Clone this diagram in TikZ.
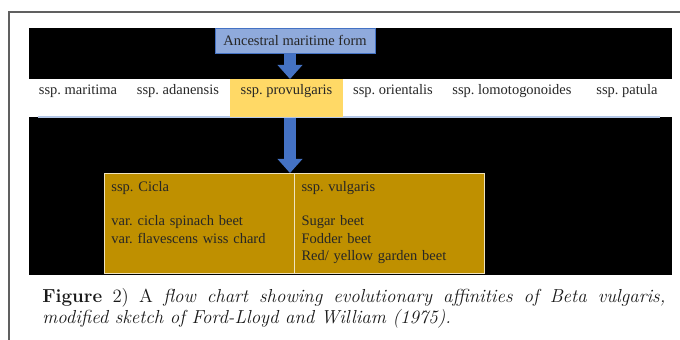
\documentclass[tikz,border=0pt]{standalone}
\usepackage{fontspec}
\usepackage{tikz}
\newfontfamily\slidefont{Liberation Serif}
\usetikzlibrary{arrows.meta, positioning}
\frenchspacing

\definecolor{ancblue}{HTML}{8FAADC}
\definecolor{arrowblue}{HTML}{4472C4}
\definecolor{provyellow}{HTML}{FFD966}
\definecolor{beetgold}{HTML}{BF9000}
\definecolor{bandline}{HTML}{B4C7E7}

\begin{document}
\begin{tikzpicture}[x=0.025cm, y=-0.025cm,
    ancestor/.style={rectangle, draw=arrowblue, fill=ancblue, line width=0.6pt,
                     minimum width=4cm, minimum height=0.625cm, inner sep=0pt,
                     font=\slidefont\fontsize{10.3}{12.4}\selectfont, text=black!85},
    subsp/.style={rectangle, inner sep=0pt, text height=0.375cm, text depth=0.575cm,
                  anchor=north, font=\slidefont\fontsize{10.3}{12.4}\selectfont, text=black!85},
    variety/.style={rectangle, draw=white!75!beetgold, fill=beetgold, line width=0.6pt,
                    text width=4.4cm, align=left, inner xsep=0.175cm, inner ysep=0pt,
                    outer sep=0pt, text height=0.45cm, text depth=2.05cm, anchor=north,
                    font=\slidefont\fontsize{10.3}{12.4}\selectfont, text=black!85},
    flow/.style={draw=arrowblue, line width=0.3cm,
                 -{Triangle[width=0.625cm, length=0.35cm, line width=0pt]}},
    caption/.style={text width=15.575cm, align=justify, inner sep=0pt, anchor=base west,
                    font=\fontsize{13.4}{14.9}\selectfont, text=black!90}]
\useasboundingbox (0,0) rectangle (680,340);
\draw[gray!75!black, line width=1.2pt] (9,340) -- (9,12) -- (680,12);

% slide background and the row of subspecies
\fill[black] (29,28) rectangle (672,275);
\fill[white] (29,79) rectangle (672,117);
\draw[bandline, line width=0.8pt] (38,117) -- (660,117);

\node[ancestor, anchor=north] (ancestral) at (295,28) {Ancestral maritime form};

\node[subsp] (maritima) at (78,79) {ssp. maritima};
\node[subsp] (adanensis) at (178,79) {ssp. adanensis};
\node[subsp, fill=provyellow, minimum width=2.825cm] (provulgaris) at (286.5,79) {ssp. provulgaris};
\node[subsp] (orientalis) at (393,79) {ssp. orientalis};
\node[subsp] (lomotogonoides) at (512,79) {ssp. lomotogonoides};
\node[subsp] (patula) at (627,79) {ssp. patula};

\node[variety] (cicla) at (199.5,173) {ssp. Cicla\\[12.4pt]var. cicla spinach beet\\var. flavescens wiss chard};
\node[variety, right=0pt of cicla] (vulgaris) {ssp. vulgaris\\[12.4pt]Sugar beet\\Fodder beet\\Red/ yellow garden beet};

\coordinate (axis) at (290,0);
\draw[flow] (ancestral.south -| axis) -- (provulgaris.north -| axis);
\draw[flow] (provulgaris.south -| axis) -- (cicla.north -| axis);

\node[caption] (figcaption) at (42,303) {{\bfseries Figure} 2) A \itshape flow chart showing evolutionary affinities of Beta vulgaris,\linebreak modified sketch of Ford-Lloyd and William (1975).};
\end{tikzpicture}
\end{document}
